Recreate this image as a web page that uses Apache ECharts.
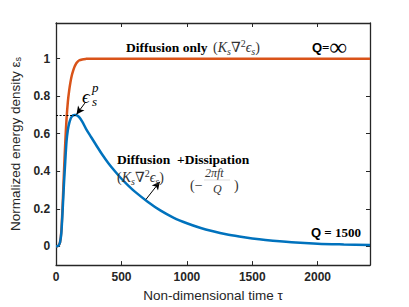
<!DOCTYPE html>
<html><head><meta charset="utf-8">
<script src="https://cdn.jsdelivr.net/npm/echarts@6/dist/echarts.min.js"></script>
<style>html,body{margin:0;padding:0;background:#fff}#c{width:409px;height:307px}</style>
</head><body><div id="c"></div>
<script>
const tauRise = [0,10,20,30,40,50,60,70,80,90,100,110,120,130,140,150,160,175,200,230,250,270,300];
const diffusionOnly = [0,0,0.005,0.02,0.08,0.22,0.39,0.55,0.68,0.77,0.83,0.875,0.91,0.935,0.955,0.97,0.98,0.99,0.996,0.999,1,1,1];
const tauTailOnly = [400,600,800,1000,1500,2000,2400];
const diffusionOnlyTail = [1,1,1,1,1,1,1];
const tauDiss = [0,10,20,30,40,50,60,70,80,90,100,110,120,130,140,150,160,175,200,230,270,306,350,400,450,500,550,600,700,800,900,1000,1100,1200,1300,1400,1500,1600,1800,2000,2200,2400];
const diffusionDissipation = [0,0,0.005,0.02,0.07,0.19,0.33,0.45,0.56,0.62,0.655,0.678,0.691,0.698,0.70,0.70,0.698,0.69,0.665,0.625,0.58,0.54,0.492,0.443,0.40,0.36,0.325,0.293,0.238,0.19,0.152,0.123,0.099,0.080,0.064,0.052,0.042,0.034,0.022,0.014,0.010,0.007];
const xTicks = [0,500,1000,1500,2000];
const yTicks = [0,0.2,0.4,0.6,0.8,1];
const peakValue = 0.70, peakTau = 150;

const chart = echarts.init(document.getElementById('c'), null, {renderer:'svg'});
const AX = '#262626';
const serif = '"Liberation Serif","DejaVu Serif",serif';
const sans = '"Liberation Sans",Arial,sans-serif';
function pairs(t,v){return t.map((x,i)=>[x,v[i]]);}
const tickCommon = {show:true, inside:true, length:4, lineStyle:{color:AX,width:1}};
chart.setOption({
  animation:false,
  grid:{left:53,right:39,top:23,bottom:35},
  xAxis:[
    {type:'value',min:0,max:2400,position:'bottom',
     axisLine:{show:true,onZero:false,lineStyle:{color:AX,width:1.3}},
     axisTick:Object.assign({customValues:xTicks},tickCommon),
     axisLabel:{customValues:xTicks,formatter:v=>String(v),color:AX,fontFamily:sans,fontWeight:'bold',fontSize:12,margin:6},
     splitLine:{show:false},
     name:'Non-dimensional time τ',nameLocation:'middle',nameGap:20,
     nameTextStyle:{color:AX,fontFamily:sans,fontSize:13.5,fontWeight:'normal'}},
    {type:'value',min:0,max:2400,position:'top',
     axisLine:{show:true,onZero:false,lineStyle:{color:AX,width:1.3}},
     axisTick:Object.assign({customValues:xTicks},tickCommon),
     axisLabel:{show:false},splitLine:{show:false}}
  ],
  yAxis:[
    {type:'value',min:-0.1,max:1.19,position:'left',
     axisLine:{show:true,onZero:false,lineStyle:{color:AX,width:1.3}},
     axisTick:Object.assign({customValues:yTicks},tickCommon),
     axisLabel:{customValues:yTicks,formatter:v=>String(v),color:AX,fontFamily:sans,fontWeight:'bold',fontSize:12,margin:6},
     splitLine:{show:false},
     name:'{a|Normalized energy density ε}{s|s}',nameLocation:'middle',nameGap:30,
     nameTextStyle:{rich:{a:{color:AX,fontFamily:sans,fontSize:13.5},s:{color:AX,fontFamily:sans,fontSize:9,verticalAlign:'bottom',padding:[6,0,0,0]}}}},
    {type:'value',min:-0.1,max:1.19,position:'right',
     axisLine:{show:true,onZero:false,lineStyle:{color:AX,width:1.3}},
     axisTick:Object.assign({customValues:yTicks},tickCommon),
     axisLabel:{show:false},splitLine:{show:false}}
  ],
  series:[
    {type:'line',data:pairs(tauRise,diffusionOnly).concat(pairs(tauTailOnly,diffusionOnlyTail)),showSymbol:false,smooth:0.3,
     lineStyle:{color:'#D95319',width:2.5},z:3},
    {type:'line',data:pairs(tauDiss,diffusionDissipation),showSymbol:false,smooth:0.3,
     lineStyle:{color:'#0072BD',width:2.5},z:4,
     markLine:{silent:true,symbol:['none','none'],label:{show:false},
       lineStyle:{color:'#000',type:[2,1.5],width:1},
       data:[[{coord:[0,peakValue]},{coord:[peakTau,peakValue]}]]}},
    {type:'line',data:[],
     markLine:{silent:true,symbol:['none','arrow'],symbolSize:[6,8],label:{show:false},
       lineStyle:{color:'#000',type:'solid',width:1},
       data:[[{coord:[220,0.763]},{coord:[156,0.703]}],
             [{coord:[687,0.25]},{coord:[793,0.344]}]]}}
  ]
});

const mathC = '#333';
function T(x,y,text,font,opts){return Object.assign({type:'text',x:x,y:y,silent:true,z:10,
  style:Object.assign({text:text,font:font,fill:'#000',textVerticalAlign:'middle'},opts||{})});}
const mathRich = {k:{font:'italic 14px '+serif,fill:mathC},n:{font:'14px '+serif,fill:mathC},
  s:{font:'italic 10px '+serif,fill:mathC,padding:[8,0,0,0]},p:{font:'10px '+serif,fill:mathC,padding:[0,0,8,0]}};
chart.setOption({graphic:[
  T(126,47,'Diffusion only','bold 13.5px '+serif),
  {type:'text',x:213,y:47,z:10,style:{text:'({k|K}{s|s}{n|∇}{p|2}{k|ϵ}{s|s})',textVerticalAlign:'middle',rich:mathRich,font:'14px '+serif,fill:mathC}},
  {type:'text',x:312,y:47,z:10,style:{text:'{q|Q}{e|=}{i|∞}',textVerticalAlign:'middle',
    rich:{q:{font:'bold 13px '+sans,fill:'#000'},e:{font:'bold 13px '+serif,fill:'#000'},i:{font:'bold 24px '+serif,fill:'#000'}}}},
  T(82,96,'ϵ','italic 19px '+serif),
  T(92,87,'p','italic 13px '+serif),
  T(92,101,'s','italic 13px '+serif),
  T(117,159,'Diffusion  +Dissipation','bold 13.5px '+serif),
  {type:'text',x:117,y:177,z:10,style:{text:'({k|K}{s|s}{n|∇}{p|2}{k|ϵ}{s|s})',textVerticalAlign:'middle',rich:mathRich,font:'14px '+serif,fill:mathC}},
  T(190,185,'(−','14px '+serif,{fill:mathC}),
  T(205,173,'2πft','italic 12px '+serif,{fill:mathC}),
  {type:'line',silent:true,z:10,shape:{x1:204,y1:180,x2:230,y2:180},style:{stroke:'#bbb',lineWidth:0.5}},
  T(213,189,'Q','italic 12px '+serif,{fill:mathC}),
  T(234,185,')','14px '+serif,{fill:mathC}),
  {type:'text',x:311,y:232,z:10,style:{text:'{q|Q}{e| = 1500}',textVerticalAlign:'middle',
    rich:{q:{font:'bold 13px '+sans,fill:'#000'},e:{font:'bold 13px '+serif,fill:'#000'}}}}
]});
</script></body></html>
